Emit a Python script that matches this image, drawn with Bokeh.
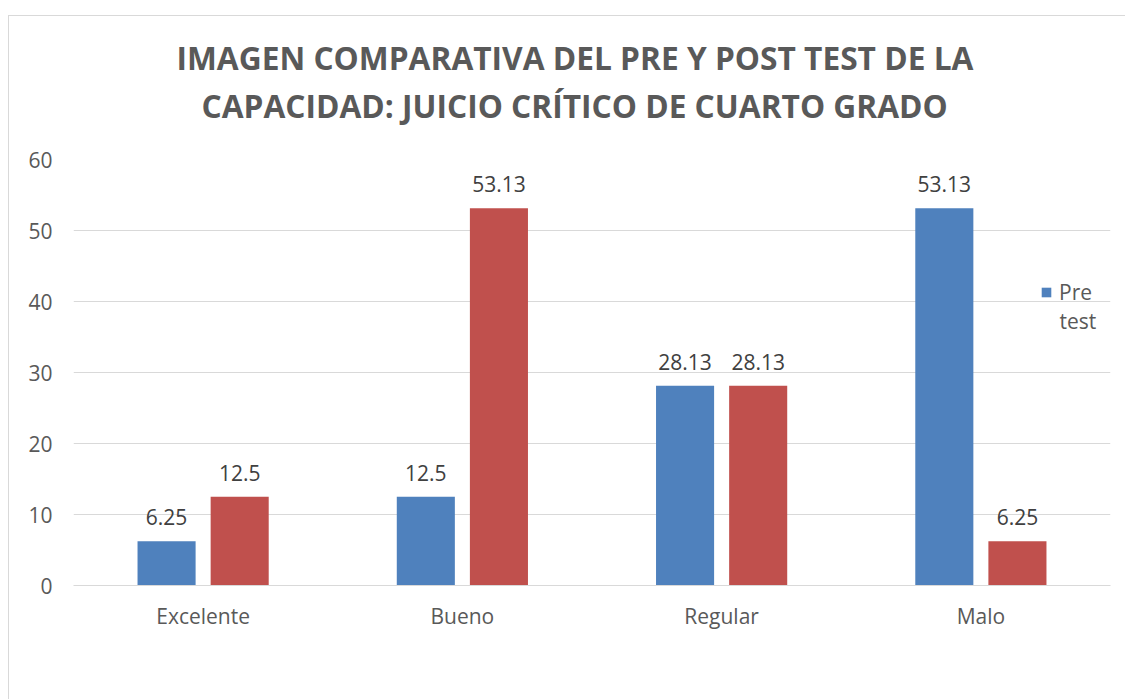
from bokeh.plotting import figure
from bokeh.models import ColumnDataSource, FactorRange, Legend, LegendItem, Label, Title
from bokeh.transform import dodge
from bokeh.embed import file_html
from bokeh.resources import INLINE
from bokeh.core.properties import value

categories = ["Excelente", "Bueno", "Regular", "Malo"]
pre_test = [6.25, 12.5, 28.13, 53.13]
post_test = [12.5, 53.13, 28.13, 6.25]
y_ticks = [0, 10, 20, 30, 40, 50, 60]
title_lines = ["IMAGEN COMPARATIVA DEL PRE Y POST TEST DE LA",
               "CAPACIDAD: JUICIO CRÍTICO DE CUARTO GRADO"]

FONT = "Open Sans"

src = ColumnDataSource(dict(
    cat=categories,
    pre=pre_test,
    post=post_test,
    pre_lbl=[str(v) for v in pre_test],
    post_lbl=[str(v) for v in post_test],
))

p = figure(x_range=FactorRange(*categories, range_padding=0), y_range=(0, 60),
           width=1117, height=684, output_backend="svg", toolbar_location=None,
           min_border_left=64, min_border_right=16, min_border_top=143, min_border_bottom=115,
           title=None)
p.styles = {"margin-left": "8px", "margin-top": "15px",
            "border-top": "1px solid #d9d9d9", "border-left": "1px solid #d9d9d9"}
p.outline_line_color = None
p.background_fill_color = "white"
p.border_fill_color = "white"

# two-line title: second line closest to the plot
p.add_layout(Title(text=title_lines[1], align="left", offset=128, standoff=66,
                   text_font=FONT, text_font_size="31.7px", text_font_style="bold",
                   text_color="#595959"), "above")
p.add_layout(Title(text=title_lines[0], align="left", offset=103, standoff=-61,
                   text_font=FONT, text_font_size="31.7px", text_font_style="bold",
                   text_color="#595959"), "above")

off = 0.141
w = 0.224
r_pre = p.vbar(x=dodge("cat", -off, range=p.x_range), top="pre", width=w, source=src,
               fill_color="#4F81BD", line_color=None)
r_post = p.vbar(x=dodge("cat", off, range=p.x_range), top="post", width=w, source=src,
                fill_color="#C0504D", line_color=None)

for col, lbl, o in (("pre", "pre_lbl", -off), ("post", "post_lbl", off)):
    p.text(x=dodge("cat", o, range=p.x_range), y=col, text=lbl, source=src,
           text_align="center", text_baseline="alphabetic", y_offset=-24,
           text_font=value(FONT), text_font_size="21px", text_color="#404040")

p.yaxis.ticker = y_ticks
p.ygrid.ticker = y_ticks
p.ygrid.grid_line_color = "#d9d9d9"
p.ygrid.grid_line_width = 1
p.xgrid.grid_line_color = None

for ax in (p.xaxis, p.yaxis):
    ax.major_tick_line_color = None
    ax.minor_tick_line_color = None
    ax.major_label_text_font = FONT
    ax.major_label_text_font_size = "21px"
    ax.major_label_text_color = "#595959"
p.yaxis.axis_line_color = None
p.yaxis.major_label_standoff = 15
p.xaxis.axis_line_color = "#d9d9d9"
p.xaxis.major_label_standoff = 10

legend = Legend(items=[LegendItem(label="Pre", renderers=[r_pre])],
                location=(967, 279), padding=0, margin=0, spacing=0,
                glyph_width=12, glyph_height=12, label_standoff=7,
                label_text_font=FONT, label_text_font_size="21px", label_text_color="#595959",
                border_line_color=None, background_fill_alpha=0)
p.add_layout(legend, "center")
p.add_layout(Label(x=3.803, y=37.2, text="test", text_font=FONT, text_font_size="21px",
                   text_color="#595959", text_baseline="alphabetic"))

open("out.html", "w").write(file_html(p, INLINE))
